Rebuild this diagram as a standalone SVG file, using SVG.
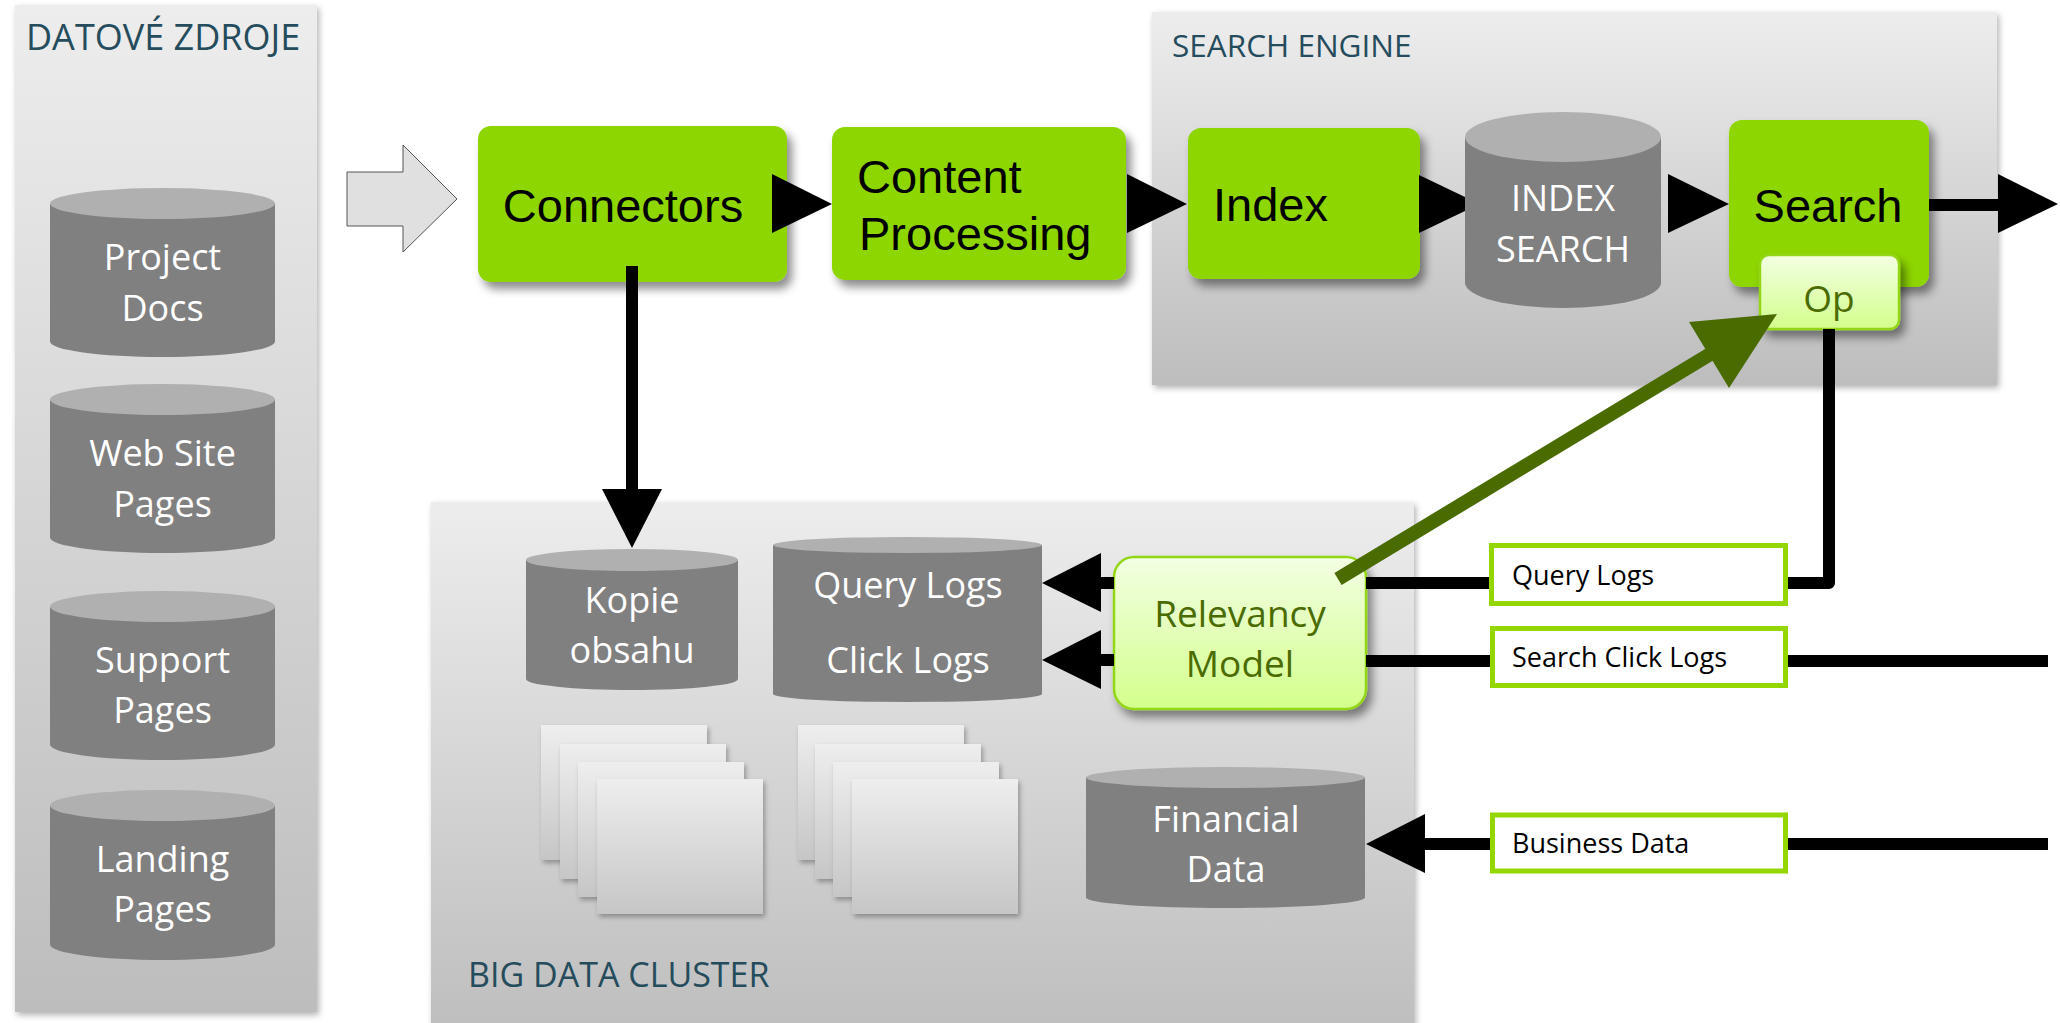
<svg xmlns="http://www.w3.org/2000/svg" width="2060" height="1023" viewBox="0 0 2060 1023">
  <defs>
    <linearGradient id="panelGrad" x1="0" y1="0" x2="0" y2="1">
      <stop offset="0" stop-color="#ededed"/>
      <stop offset="1" stop-color="#bdbdbd"/>
    </linearGradient>
    <linearGradient id="sheetGrad" x1="0" y1="0" x2="0" y2="1">
      <stop offset="0" stop-color="#eeeeee"/>
      <stop offset="1" stop-color="#c6c6c6"/>
    </linearGradient>
    <linearGradient id="lightGreen" x1="0" y1="0" x2="0" y2="1">
      <stop offset="0" stop-color="#f3ffe3"/>
      <stop offset="1" stop-color="#d3ff8c"/>
    </linearGradient>
    <filter id="panelShadow" x="-5%" y="-5%" width="110%" height="110%">
      <feDropShadow dx="2" dy="3" stdDeviation="3" flood-color="#000" flood-opacity="0.3"/>
    </filter>
    <filter id="boxShadow" x="-10%" y="-10%" width="130%" height="135%">
      <feDropShadow dx="5" dy="7" stdDeviation="5" flood-color="#000" flood-opacity="0.45"/>
    </filter>
    <filter id="sheetShadow" x="-10%" y="-10%" width="125%" height="125%">
      <feDropShadow dx="2" dy="3" stdDeviation="2.5" flood-color="#000" flood-opacity="0.3"/>
    </filter>
  </defs>
  <style>
    .panel { fill: url(#panelGrad); filter: url(#panelShadow); }
    .title { font-family: "Open Sans", "Liberation Sans", sans-serif; fill: #254c5c; }
    .cylBody { fill: #808080; }
    .cylTop { fill: #b0b0b0; }
    .cylText { font-family: "Open Sans", "Liberation Sans", sans-serif; font-size: 36px; fill: #ffffff; text-anchor: middle; }
    .green { fill: #8ed600; filter: url(#boxShadow); }
    .greenText { font-family: "Liberation Sans", Arial, sans-serif; font-size: 47px; fill: #000; }
    .soft { fill: url(#lightGreen); stroke: #92d618; stroke-width: 2.5; filter: url(#boxShadow); }
    .softText { font-family: "Open Sans", "Liberation Sans", sans-serif; font-size: 37px; fill: #4a6b00; text-anchor: middle; }
    .sheet { fill: url(#sheetGrad); filter: url(#sheetShadow); }
    .label { fill: #ffffff; stroke: #94d600; stroke-width: 5; }
    .labelText { font-family: "Open Sans", "Liberation Sans", sans-serif; font-size: 27px; fill: #000; }
    .line { fill: none; stroke: #000; stroke-width: 12; }
    .head { fill: #000; }
  </style>

  <!-- containers -->
  <g id="datove-zdroje">
    <rect class="panel" x="15" y="5" width="302" height="1007"/>
    <text class="title" x="26" y="50" font-size="36">DATOVÉ ZDROJE</text>
  </g>
  <g id="search-engine">
    <rect class="panel" x="1152" y="12" width="845" height="373"/>
    <text class="title" x="1172" y="57" font-size="31.5">SEARCH ENGINE</text>
  </g>
  <g id="big-data-cluster">
    <rect class="panel" x="431" y="502" width="983" height="540"/>
    <text class="title" x="468" y="987" font-size="34">BIG DATA CLUSTER</text>
  </g>

  <!-- data sources -->
  <g id="project-docs">
    <path class="cylBody" d="M50,203.5 L50,341.5 A112.5,15.5 0 0 0 275,341.5 L275,203.5 Z"/>
    <ellipse class="cylTop" cx="162.5" cy="203.5" rx="112.5" ry="15.5"/>
    <text class="cylText" x="162.5" y="270">Project</text>
    <text class="cylText" x="162.5" y="321">Docs</text>
  </g>
  <g id="web-site-pages">
    <path class="cylBody" d="M50,399.5 L50,537.5 A112.5,15.5 0 0 0 275,537.5 L275,399.5 Z"/>
    <ellipse class="cylTop" cx="162.5" cy="399.5" rx="112.5" ry="15.5"/>
    <text class="cylText" x="162.5" y="466">Web Site</text>
    <text class="cylText" x="162.5" y="517">Pages</text>
  </g>
  <g id="support-pages">
    <path class="cylBody" d="M50,606.5 L50,744.5 A112.5,15.5 0 0 0 275,744.5 L275,606.5 Z"/>
    <ellipse class="cylTop" cx="162.5" cy="606.5" rx="112.5" ry="15.5"/>
    <text class="cylText" x="162.5" y="673">Support</text>
    <text class="cylText" x="162.5" y="723">Pages</text>
  </g>
  <g id="landing-pages">
    <path class="cylBody" d="M50,805.5 L50,944.5 A112.5,15.5 0 0 0 275,944.5 L275,805.5 Z"/>
    <ellipse class="cylTop" cx="162.5" cy="805.5" rx="112.5" ry="15.5"/>
    <text class="cylText" x="162.5" y="872">Landing</text>
    <text class="cylText" x="162.5" y="922">Pages</text>
  </g>

  <!-- ingest arrow -->
  <g id="ingest-arrow">
    <polygon points="347,172 403,172 403,145 457,199 403,252 403,226 347,226" fill="#e0e0e0" stroke="#555555" stroke-width="1"/>
  </g>

  <!-- pipeline -->
  <g id="connectors">
    <rect class="green" x="478" y="126" width="309" height="156" rx="13"/>
    <text class="greenText" x="623" y="222" text-anchor="middle">Connectors</text>
  </g>
  <g id="content-processing">
    <rect class="green" x="832" y="127" width="294" height="153" rx="13"/>
    <text class="greenText" x="857" y="193">Content</text>
    <text class="greenText" x="859" y="250">Processing</text>
  </g>
  <g id="index">
    <rect class="green" x="1188" y="128" width="232" height="151" rx="13"/>
    <text class="greenText" x="1213" y="221">Index</text>
  </g>
  <g id="search">
    <rect class="green" x="1729" y="120" width="200" height="167" rx="13"/>
    <text class="greenText" x="1828" y="222" text-anchor="middle">Search</text>
  </g>
  <g id="op">
    <rect class="soft" x="1760" y="255" width="139" height="74" rx="9"/>
    <text class="softText" x="1829" y="312" font-size="38">Op</text>
  </g>

  <!-- storage -->
  <g id="index-search">
    <path class="cylBody" d="M1465,137 L1465,283 A98,25 0 0 0 1661,283 L1661,137 Z"/>
    <ellipse class="cylTop" cx="1563" cy="137" rx="98" ry="25"/>
    <text class="cylText" x="1563" y="211">INDEX</text>
    <text class="cylText" x="1563" y="262">SEARCH</text>
  </g>
  <g id="kopie-obsahu">
    <path class="cylBody" d="M526,560 L526,679 A106,11 0 0 0 738,679 L738,560 Z"/>
    <ellipse class="cylTop" cx="632" cy="560" rx="106" ry="11"/>
    <text class="cylText" x="632" y="613">Kopie</text>
    <text class="cylText" x="632" y="663">obsahu</text>
  </g>
  <g id="logs">
    <path class="cylBody" d="M773,545 L773,694 A134.5,8 0 0 0 1042,694 L1042,545 Z"/>
    <ellipse class="cylTop" cx="907.5" cy="545" rx="134.5" ry="8"/>
    <text class="cylText" x="908" y="598">Query Logs</text>
    <text class="cylText" x="908" y="673">Click Logs</text>
  </g>
  <g id="financial-data">
    <path class="cylBody" d="M1086,777.5 L1086,897.5 A139.5,10.5 0 0 0 1365,897.5 L1365,777.5 Z"/>
    <ellipse class="cylTop" cx="1225.5" cy="777.5" rx="139.5" ry="10.5"/>
    <text class="cylText" x="1226" y="832">Financial</text>
    <text class="cylText" x="1226" y="882">Data</text>
  </g>
  <g id="documents-1">
    <rect class="sheet" x="541" y="725" width="166" height="135"/>
    <rect class="sheet" x="560" y="744" width="166" height="135"/>
    <rect class="sheet" x="578" y="762" width="166" height="135"/>
    <rect class="sheet" x="597" y="779" width="166" height="135"/>
  </g>
  <g id="documents-2">
    <rect class="sheet" x="798" y="725" width="166" height="135"/>
    <rect class="sheet" x="815" y="744" width="166" height="135"/>
    <rect class="sheet" x="833" y="762" width="166" height="135"/>
    <rect class="sheet" x="852" y="779" width="166" height="135"/>
  </g>
  <g id="relevancy-model">
    <rect class="soft" x="1114" y="557" width="252" height="152" rx="20"/>
    <text class="softText" x="1240" y="627">Relevancy</text>
    <text class="softText" x="1240" y="677">Model</text>
  </g>

  <!-- flows -->
  <g id="connectors-flow">
    <polygon class="head" points="772,174 772,233 832,204"/>
    <polygon class="head" points="1127,174 1127,233 1187,204"/>
    <polygon class="head" points="1419,175 1419,233 1465,211 1465,197"/>
    <polygon class="head" points="1668,174 1668,233 1729,204"/>
    <line class="line" x1="1929" y1="205" x2="2000" y2="205" stroke-width="11"/>
    <polygon class="head" points="1998,174 1998,233 2058,204"/>

    <line class="line" x1="632" y1="266" x2="632" y2="490"/>
    <polygon class="head" points="602,489 662,489 632,548"/>

    <line class="line" x1="1100" y1="583" x2="1114" y2="583"/>
    <polygon class="head" points="1101,553 1101,612 1042,583"/>
    <line class="line" x1="1100" y1="660" x2="1114" y2="660"/>
    <polygon class="head" points="1101,630 1101,689 1042,660"/>

    <path class="line" d="M1366,583 H1829 V329" stroke-linejoin="round"/>
    <line class="line" x1="1366" y1="661" x2="2048" y2="661"/>
    <line class="line" x1="1424" y1="844" x2="2048" y2="844"/>
    <polygon class="head" points="1425,814 1425,873 1366,844"/>

    <line x1="1338" y1="579" x2="1712" y2="353" stroke="#4a6b00" stroke-width="14"/>
    <polygon points="1689,322 1729,388 1777,314" fill="#4a6b00"/>
  </g>

  <!-- flow labels -->
  <g id="label-query-logs">
    <rect class="label" x="1491.5" y="545.5" width="294" height="58"/>
    <text class="labelText" x="1512" y="585">Query Logs</text>
  </g>
  <g id="label-search-click-logs">
    <rect class="label" x="1492.5" y="628.5" width="293" height="57"/>
    <text class="labelText" x="1512" y="667">Search Click Logs</text>
  </g>
  <g id="label-business-data">
    <rect class="label" x="1492.5" y="815" width="293" height="56"/>
    <text class="labelText" x="1512" y="853">Business Data</text>
  </g>
</svg>
